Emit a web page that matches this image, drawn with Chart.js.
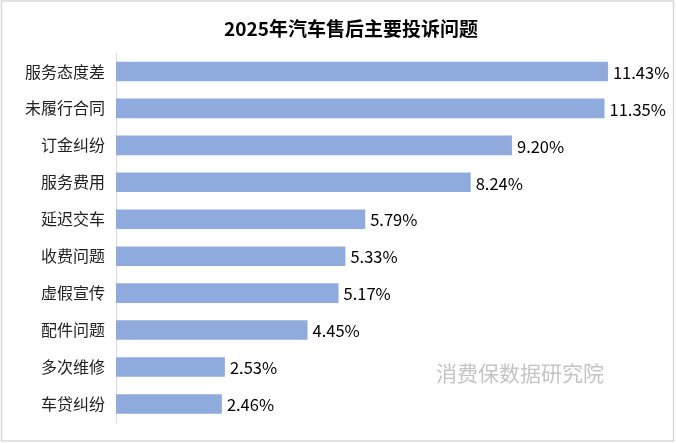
<!DOCTYPE html>
<html>
<head>
<meta charset="utf-8">
<script src="https://cdn.jsdelivr.net/npm/chart.js@4/dist/chart.umd.min.js"></script>
<style>
  html, body { margin: 0; padding: 0; background: #fff; }
  #wrap { position: relative; width: 676px; height: 443px; }
</style>
</head>
<body>
<div id="wrap"><canvas id="issueChart" width="676" height="443"></canvas></div>
<script>
// data
const categories = ['服务态度差', '未履行合同', '订金纠纷', '服务费用', '延迟交车',
                    '收费问题', '虚假宣传', '配件问题', '多次维修', '车贷纠纷'];
const shares = [11.43, 11.35, 9.20, 8.24, 5.79, 5.33, 5.17, 4.45, 2.53, 2.46];
const titleText = '2025年汽车售后主要投诉问题';
const watermark = '消费保数据研究院';

const FONT = "'Noto Sans CJK SC', 'Microsoft YaHei', sans-serif";

// title, value labels, frame and watermark
const decorations = {
    id: 'decorations',
    afterDatasetsDraw(chart) {
        const ctx = chart.ctx;
        const meta = chart.getDatasetMeta(0);
        ctx.save();
        ctx.textBaseline = 'middle';

        ctx.font = 'bold 19px ' + FONT;
        ctx.fillStyle = '#000';
        ctx.textAlign = 'center';
        ctx.fillText(titleText, 351, 29);

        ctx.font = '16.5px ' + FONT;
        ctx.textAlign = 'left';
        meta.data.forEach((bar, i) => {
            ctx.fillText(shares[i].toFixed(2) + '%', bar.x + 5, bar.y + 1);
        });

        ctx.font = '21px ' + FONT;
        ctx.fillStyle = '#c4c4c4';
        ctx.fillText(watermark, 436, 373);
        ctx.restore();
    },
    afterDraw(chart) {
        const ctx = chart.ctx;
        ctx.save();
        ctx.strokeStyle = '#d9d9d9';
        ctx.lineWidth = 1.5;
        ctx.strokeRect(1.5, 1, 672, 440);
        ctx.restore();
    }
};

const ctx = document.getElementById('issueChart').getContext('2d');
new Chart(ctx, {
    type: 'bar',
    data: {
        labels: categories,
        datasets: [{
            data: shares,
            backgroundColor: '#8faadc',
            borderWidth: 0,
            barPercentage: 1,
            categoryPercentage: 0.53
        }]
    },
    plugins: [decorations],
    options: {
        indexAxis: 'y',
        responsive: false,
        animation: false,
        layout: { padding: { left: 0, right: 22, top: 53, bottom: 18 } },
        plugins: {
            legend: { display: false },
            tooltip: { enabled: false },
            title: { display: false }
        },
        scales: {
            x: {
                display: false,
                min: 0,
                max: 12.5
            },
            y: {
                afterFit(scale) { scale.width = 116; },
                grid: { display: false, drawTicks: false },
                border: { display: true, color: '#d9d9d9', width: 1 },
                ticks: {
                    padding: 11,
                    color: '#222',
                    font: { family: FONT, size: 16 }
                }
            }
        }
    }
});
</script>
</body>
</html>
